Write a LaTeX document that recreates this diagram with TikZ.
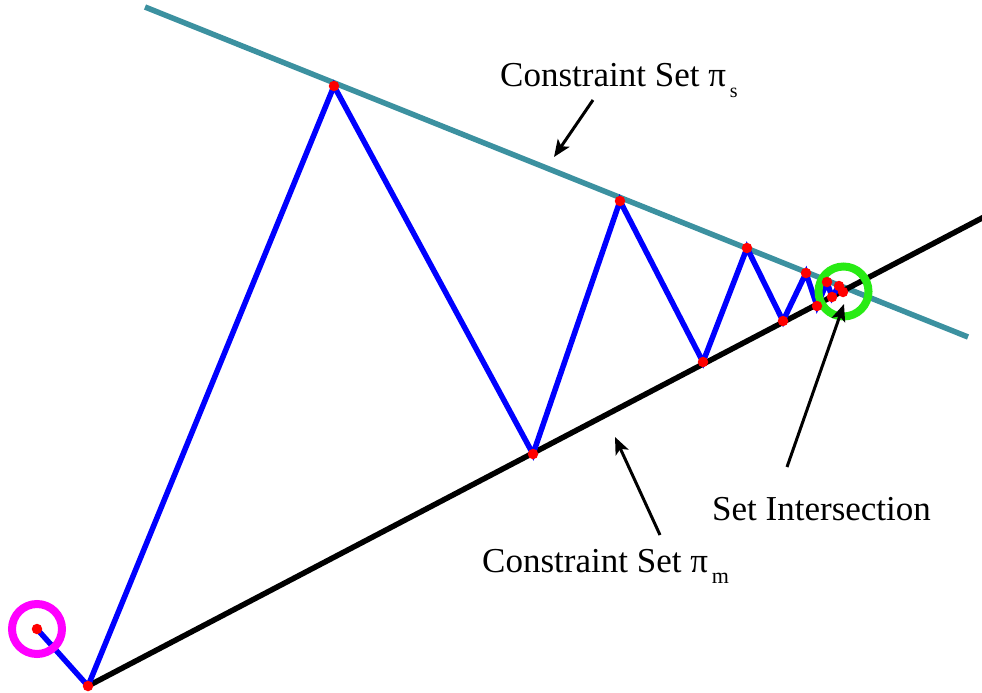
\documentclass[tikz,border=0pt]{standalone}
\usepackage{fontspec}
\setmainfont{Liberation Serif}
\usetikzlibrary{arrows.meta}
\definecolor{tealline}{RGB}{60,145,160}
\definecolor{ringgreen}{RGB}{40,235,20}
\definecolor{ringpink}{RGB}{255,0,255}
\begin{document}
\begin{tikzpicture}[x=1pt,y=-1pt,
  setline/.style={line width=5.5pt},
  iterline/.style={blue,line width=5.5pt,line join=miter},
  dot/.style={circle,fill=red,inner sep=0pt,minimum size=10.5pt},
  ring/.style={line width=8pt},
  pointer/.style={line width=3pt,-{Stealth[length=17pt,width=14pt,inset=4pt]}},
  lbl/.style={anchor=base west,inner sep=0pt,font=\fontsize{35}{40}\selectfont}]
\useasboundingbox (0,0) rectangle (982,693);
% iterates
\coordinate (p0) at (37,629);
\coordinate (p1) at (88,686);
\coordinate (p2) at (334,86);
\coordinate (p3) at (533,454);
\coordinate (p4) at (620,201);
\coordinate (p5) at (703,362);
\coordinate (p6) at (747,248);
\coordinate (p7) at (783,321);
\coordinate (p8) at (806,273);
\coordinate (p9) at (817,306);
\coordinate (p10) at (827,282);
\coordinate (p11) at (832,297);
\coordinate (p12) at (839,286);
\coordinate (p13) at (843,292);
% constraint lines
\coordinate (sA) at (145,7);
\coordinate (sB) at (968,337);
\coordinate (mB) at (984,217);
\draw[setline,tealline] (sA) -- (sB);
\draw[setline,black] (p1) -- (mB);
% iteration path
\draw[iterline] (p0) -- (p1) -- (p2) -- (p3) -- (p4) -- (p5) -- (p6) -- (p7) -- (p8) -- (p9) -- (p10) -- (p11) -- (p12) -- (p13);
% rings
\node[ring,draw=ringpink,circle,minimum size=50pt,inner sep=0pt] (start) at (p0) {};
\node[ring,draw=ringgreen,circle,minimum size=50pt,inner sep=0pt] (goal) at (843.5,291.5) {};
% dots
\foreach \i in {0,...,13} \node[dot] (d\i) at (p\i) {};
% labels
\node[lbl] (ls) at (500,86) {Constraint Set π\hspace{4pt}\raisebox{-11pt}{\fontsize{20}{22}\selectfont s}};
\node[lbl] (lm) at (482,572) {Constraint Set π\hspace{4pt}\raisebox{-11pt}{\fontsize{22}{22}\selectfont m}};
\node[lbl] (li) at (712,520) {Set Intersection};
% pointers
\coordinate (a1t) at (593,100);
\coordinate (a1h) at (554,157);
\coordinate (a2t) at (660,535);
\coordinate (a2h) at (615,437);
\coordinate (a3t) at (787,467);
\coordinate (a3h) at (844,304);
\draw[pointer] (a1t) -- (a1h);
\draw[pointer] (a2t) -- (a2h);
\draw[pointer] (a3t) -- (a3h);
\end{tikzpicture}
\end{document}
